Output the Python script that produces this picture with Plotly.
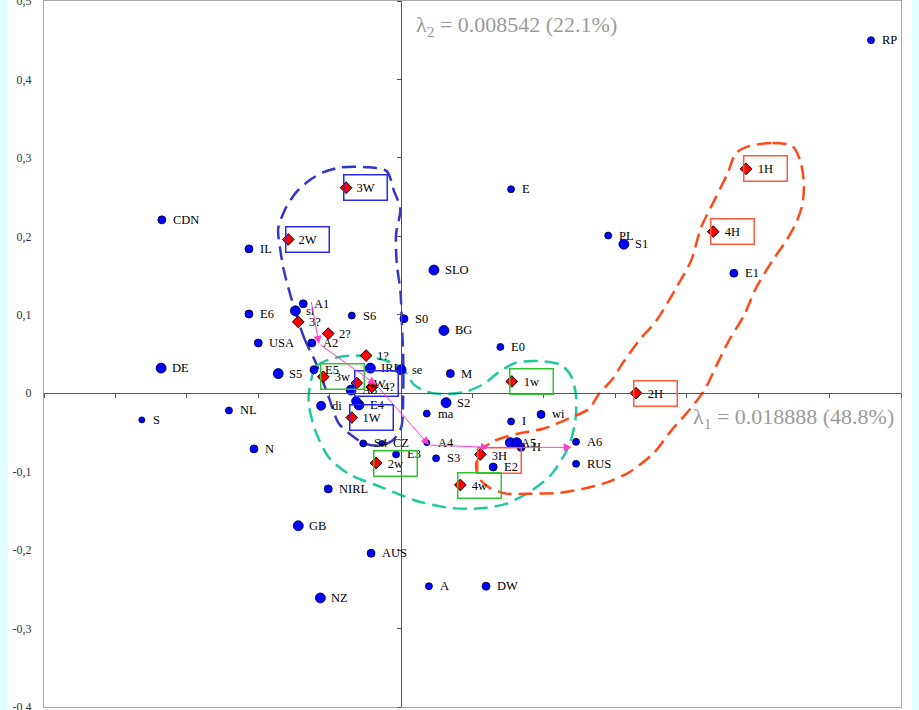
import plotly.graph_objects as go

# ---------------- active points (blue circles) ----------------
pt_names = ["RP", "E", "CDN", "IL", "PL", "S1", "E1", "SLO", "A1", "si",
            "E6", "S6", "S0", "BG", "E0", "USA", "A2", "DE", "S5", "E5",
            "IRL", "se", "M", "A3", "S2", "di", "E4", "", "ma", "I",
            "wi", "NL", "S", "N", "S4", "CZ", "E3", "S3", "A4", "A5",
            "", "H", "E2", "A6", "RUS", "NIRL", "GB", "AUS", "A", "DW", "NZ"]
pt_x = [0.658, 0.154, -0.335, -0.213, 0.290, 0.312, 0.466, 0.046, -0.137, -0.148,
        -0.213, -0.069, 0.004, 0.060, 0.139, -0.200, -0.125, -0.336, -0.172, -0.122,
        -0.043, 0.000, 0.069, -0.070, 0.063, -0.112, -0.059, -0.063, 0.036, 0.154,
        0.196, -0.241, -0.363, -0.206, -0.053, -0.027, -0.007, 0.049, 0.036, 0.153,
        0.162, 0.168, 0.129, 0.245, 0.245, -0.102, -0.144, -0.042, 0.039, 0.119, -0.113]
pt_y = [0.450, 0.260, 0.221, 0.184, 0.201, 0.190, 0.153, 0.157, 0.114, 0.105,
        0.101, 0.099, 0.095, 0.080, 0.059, 0.064, 0.064, 0.032, 0.025, 0.030,
        0.032, 0.030, 0.025, 0.004, -0.012, -0.016, -0.015, -0.010, -0.026, -0.036,
        -0.027, -0.022, -0.034, -0.071, -0.064, -0.064, -0.078, -0.083, -0.063, -0.063,
        -0.063, -0.069, -0.094, -0.062, -0.090, -0.122, -0.169, -0.204, -0.246, -0.246, -0.261]
pt_size = [7, 7, 8, 8, 7, 10, 8, 10, 8, 10,
           8, 7, 8, 10, 7, 8, 8, 10, 10, 8,
           10, 10, 8, 10, 10, 9, 10, 9, 7, 7,
           8, 7, 6, 8, 7, 6, 7, 7, 6, 10,
           10, 8, 8, 7, 7, 8, 10, 8, 7, 8, 10]

# ---------------- supplementary points (red diamonds) ----------------
sup_names = ["1H", "4H", "2H", "3H", "3W", "2W", "1W", "4W",
             "1w", "2w", "3w", "4w", "1?", "2?", "3?", "4?"]
sup_x = [0.483, 0.437, 0.329, 0.111, -0.077, -0.158, -0.069, -0.062,
         0.155, -0.035, -0.109, 0.083, -0.049, -0.102, -0.144, -0.041]
sup_y = [0.286, 0.206, 0.000, -0.078, 0.262, 0.196, -0.031, 0.013,
         0.015, -0.089, 0.021, -0.117, 0.048, 0.076, 0.091, 0.008]

# ---------------- group outlines (closed dashed curves) ----------------
blue_cx = [-0.154, -0.136, -0.119, -0.101, -0.087, -0.069, -0.052, -0.031, -0.013, 0.000,
           0.003, 0.003, 0.001, -0.001, -0.006, -0.007, -0.001, -0.010, -0.020, -0.045,
           -0.084, -0.108, -0.129, -0.147, -0.162, -0.172, -0.169, -0.164, -0.154]
blue_cy = [0.122, 0.071, 0.038, -0.006, -0.039, -0.054, -0.064, -0.067, -0.061, -0.044,
           0.003, 0.045, 0.092, 0.131, 0.165, 0.203, 0.235, 0.258, 0.283, 0.288,
           0.288, 0.282, 0.271, 0.256, 0.235, 0.210, 0.182, 0.156, 0.122]

teal_cx = [-0.129, -0.119, -0.097, -0.069, -0.041, -0.013, 0.004, 0.018, 0.036, 0.057,
           0.091, 0.116, 0.137, 0.161, 0.193, 0.224, 0.238, 0.245, 0.244, 0.235,
           0.211, 0.183, 0.147, 0.105, 0.067, 0.021, -0.027, -0.073, -0.101, -0.120,
           -0.129, -0.129]
teal_cy = [0.001, 0.034, 0.044, 0.048, 0.046, 0.039, 0.029, 0.011, 0.002, -0.001,
           0.002, 0.012, 0.027, 0.039, 0.041, 0.036, 0.022, -0.003, -0.035, -0.067,
           -0.103, -0.124, -0.141, -0.147, -0.146, -0.137, -0.120, -0.103, -0.082, -0.048,
           -0.016, 0.001]

orange_cx = [0.487, 0.520, 0.548, 0.559, 0.564, 0.562, 0.553, 0.539, 0.520, 0.497,
             0.480, 0.459, 0.443, 0.424, 0.403, 0.378, 0.354, 0.319, 0.284, 0.254,
             0.221, 0.183, 0.147, 0.123, 0.109, 0.105, 0.112, 0.130, 0.161, 0.200,
             0.235, 0.263, 0.277, 0.296, 0.310, 0.333, 0.357, 0.385, 0.406, 0.420,
             0.436, 0.457, 0.469, 0.487]
orange_cy = [0.315, 0.319, 0.315, 0.296, 0.267, 0.241, 0.217, 0.194, 0.169, 0.134,
             0.099, 0.067, 0.038, 0.003, -0.022, -0.048, -0.076, -0.101, -0.115, -0.122,
             -0.127, -0.128, -0.128, -0.120, -0.108, -0.092, -0.073, -0.061, -0.052, -0.045,
             -0.032, -0.020, -0.001, 0.018, 0.038, 0.067, 0.092, 0.134, 0.169, 0.211,
             0.241, 0.280, 0.306, 0.315]

# ---------------- age trajectory (arrows) ----------------
path_x = [-0.126, -0.115, -0.035, 0.039, 0.123, 0.239]
path_y = [0.118, 0.063, 0.011, -0.066, -0.069, -0.069]

# ---------------- axis ticks ----------------
ytick_vals = [-0.4, -0.3, -0.2, -0.1, 0.0, 0.1, 0.2, 0.3, 0.4, 0.5]
ytick_text = ["-0,4", "-0,3", "-0,2", "-0,1", "0", "0,1", "0,2", "0,3", "0,4", "0,5"]

lambda1_text = "λ<sub>1</sub> = 0.018888 (48.8%)"
lambda2_text = "λ<sub>2</sub> = 0.008542 (22.1%)"

XR = [-0.5, 0.7]
YR = [-0.4, 0.5]

SERIF = "Liberation Serif, Times New Roman, serif"
BOX_COLORS = {"W": "#2a2ae6", "w": "#33c433", "H": "#ff5a3c"}

fig = go.Figure()

# outlines
for cx, cy, col in [(blue_cx, blue_cy, "#3535c8"),
                    (teal_cx, teal_cy, "#20c8a0"),
                    (orange_cx, orange_cy, "#ff4a18")]:
    fig.add_trace(go.Scatter(
        x=cx, y=cy, mode="lines",
        line=dict(color=col, width=2.5, dash="14px,7px", shape="spline", smoothing=0.8),
        hoverinfo="skip", showlegend=False))

fig.add_trace(go.Scatter(
    x=pt_x, y=pt_y, mode="markers",
    marker=dict(color="#0000ff", size=pt_size, opacity=1,
                line=dict(color="#000022", width=0.8)),
    text=pt_names, hoverinfo="text", showlegend=False))

fig.add_trace(go.Scatter(
    x=sup_x, y=sup_y, mode="markers",
    marker=dict(color="#ff0000", symbol="diamond", size=9, opacity=1,
                line=dict(color="#000000", width=1)),
    text=sup_names, hoverinfo="text", showlegend=False))

# helper trace carrying the axes through the origin
fig.add_trace(go.Scatter(x=[None], y=[None], xaxis="x2", yaxis="y2", showlegend=False, hoverinfo="skip"))

annotations = []
label_font = dict(family=SERIF, size=12.5, color="#000000")

for name, x, y in zip(pt_names, pt_x, pt_y):
    if name:
        annotations.append(dict(x=x, y=y, xref="x", yref="y", text=name, showarrow=False,
                                xanchor="left", yanchor="middle", xshift=9, font=label_font))

for name, x, y in zip(sup_names, sup_x, sup_y):
    group = name[-1]
    if group in BOX_COLORS:
        extra = dict(yshift=-6, valign="top") if name == "3H" else dict(valign="middle")
        annotations.append(dict(x=x, y=y, xref="x", yref="y", text=name, showarrow=False,
                                xanchor="left", yanchor="middle", xshift=-3,
                                width=42, height=24, borderpad=0, borderwidth=1.5,
                                bordercolor=BOX_COLORS[group], align="center",
                                font=label_font, **extra))
    else:
        annotations.append(dict(x=x, y=y, xref="x", yref="y", text=name, showarrow=False,
                                xanchor="left", yanchor="middle", xshift=9, font=label_font))

for i in range(len(path_x) - 1):
    annotations.append(dict(x=path_x[i + 1], y=path_y[i + 1], ax=path_x[i], ay=path_y[i],
                            xref="x", yref="y", axref="x", ayref="y", text="",
                            showarrow=True, arrowhead=2, arrowsize=1.6, arrowwidth=1,
                            arrowcolor="#ff3fc8", standoff=0, startstandoff=0))

annotations.append(dict(x=0.018, y=0.468, xref="x", yref="y", text=lambda2_text, showarrow=False,
                        xanchor="left", yanchor="middle",
                        font=dict(family=SERIF, size=22, color="#9a9a9a")))
annotations.append(dict(x=0.406, y=-0.032, xref="x", yref="y", text=lambda1_text, showarrow=False,
                        xanchor="left", yanchor="middle",
                        font=dict(family=SERIF, size=22, color="#9a9a9a")))

fig.update_layout(
    width=919, height=710,
    margin=dict(l=44, r=18, t=1, b=3, autoexpand=False),
    paper_bgcolor="#e0ffff",
    plot_bgcolor="#ffffff",
    showlegend=False,
    annotations=annotations,
    shapes=[dict(type="rect", xref="paper", yref="paper",
                 x0=-0.042, x1=1.0128, y0=-0.02, y1=1.02,
                 fillcolor="#ffffff", line=dict(width=0), layer="below")],
    xaxis=dict(range=XR, showgrid=False, zeroline=False, showticklabels=False, ticks="",
               automargin=False,
               showline=True, mirror=True, linecolor="#a8a8a8", linewidth=1),
    yaxis=dict(range=YR, showgrid=False, zeroline=False, ticks="",
               automargin=False,
               tickvals=ytick_vals, ticktext=ytick_text, ticklabelstandoff=9,
               ticklabeloverflow="allow",
               tickfont=dict(family=SERIF, size=12, color="#333333"),
               showline=True, mirror=True, linecolor="#a8a8a8", linewidth=1),
    xaxis2=dict(range=XR, overlaying="x", anchor="free", automargin=False,
                position=(0 - YR[0]) / (YR[1] - YR[0]),
                showgrid=False, zeroline=False, showticklabels=False,
                ticks="outside", ticklen=4, tickcolor="#555555", dtick=0.1, tick0=0,
                showline=True, linecolor="#555555", linewidth=1),
    yaxis2=dict(range=YR, overlaying="y", anchor="free", automargin=False,
                position=(0 - XR[0]) / (XR[1] - XR[0]),
                showgrid=False, zeroline=False, showticklabels=False,
                ticks="outside", ticklen=4, tickcolor="#555555", dtick=0.1, tick0=0,
                showline=True, linecolor="#555555", linewidth=1),
)

fig.write_html("out.html")
